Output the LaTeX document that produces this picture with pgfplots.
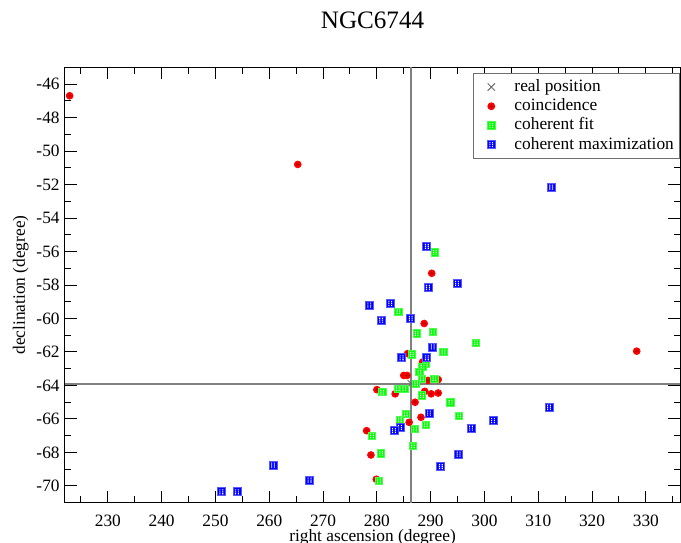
\documentclass[border=0pt]{standalone}
\usepackage{fontspec}
\setmainfont{Liberation Serif}
\usepackage{pgfplots}
\pgfplotsset{compat=1.18}
\definecolor{xgray}{RGB}{110,110,110}
\definecolor{lgray}{RGB}{128,128,128}
\definecolor{cred}{RGB}{255,0,0}
\definecolor{dred}{RGB}{190,0,0}
\definecolor{cgreen}{RGB}{0,255,0}
\definecolor{cblue}{RGB}{0,0,255}
\pgfdeclareplotmark{dsq}{%
  \pgfpathrectangle{\pgfqpoint{-\pgfplotmarksize}{-\pgfplotmarksize}}{\pgfqpoint{2\pgfplotmarksize}{2\pgfplotmarksize}}%
  \pgfusepathqfillstroke
  \begin{pgfscope}%
  \pgfsetfillcolor{white}%
  \pgfpathrectangle{\pgfqpoint{-0.5\pgfplotmarksize}{0.35\pgfplotmarksize}}{\pgfqpoint{0.28\pgfplotmarksize}{0.28\pgfplotmarksize}}%
  \pgfpathrectangle{\pgfqpoint{0.2\pgfplotmarksize}{0.35\pgfplotmarksize}}{\pgfqpoint{0.28\pgfplotmarksize}{0.28\pgfplotmarksize}}%
  \pgfpathrectangle{\pgfqpoint{-0.5\pgfplotmarksize}{-0.14\pgfplotmarksize}}{\pgfqpoint{0.28\pgfplotmarksize}{0.28\pgfplotmarksize}}%
  \pgfpathrectangle{\pgfqpoint{0.2\pgfplotmarksize}{-0.14\pgfplotmarksize}}{\pgfqpoint{0.28\pgfplotmarksize}{0.28\pgfplotmarksize}}%
  \pgfpathrectangle{\pgfqpoint{-0.5\pgfplotmarksize}{-0.63\pgfplotmarksize}}{\pgfqpoint{0.28\pgfplotmarksize}{0.28\pgfplotmarksize}}%
  \pgfpathrectangle{\pgfqpoint{0.2\pgfplotmarksize}{-0.63\pgfplotmarksize}}{\pgfqpoint{0.28\pgfplotmarksize}{0.28\pgfplotmarksize}}%
  \pgfusepathqfill
  \end{pgfscope}%
}
\pgfdeclareplotmark{dcirc}{%
  \pgfpathcircle{\pgfpointorigin}{\pgfplotmarksize}%
  \pgfusepathqfillstroke
  \begin{pgfscope}%
  \pgfsetfillcolor{dred}%
  \pgfpathrectangle{\pgfqpoint{-0.15\pgfplotmarksize}{-0.6\pgfplotmarksize}}{\pgfqpoint{0.3\pgfplotmarksize}{1.2\pgfplotmarksize}}%
  \pgfpathrectangle{\pgfqpoint{-0.6\pgfplotmarksize}{-0.15\pgfplotmarksize}}{\pgfqpoint{1.2\pgfplotmarksize}{0.3\pgfplotmarksize}}%
  \pgfusepathqfill
  \end{pgfscope}%
}
\begin{document}
\begin{tikzpicture}
\path[use as bounding box] (-32.4bp,-20.15bp) rectangle (308.1bp,251.35bp);
\begin{axis}[
 at={(0,0)}, anchor=south west,
 scale only axis, width=307.75bp, height=217.7bp,
 xmin=222, xmax=336.4, ymin=-71, ymax=-45,
 xtick distance=10, ytick distance=2,
 minor x tick num=1, minor y tick num=1,
 tick align=inside,
 major tick length=6bp, minor tick length=3.3bp,
 every tick/.style={black, line width=0.5bp},
 axis line style={line width=0.6bp},
 tick label style={font=\fontsize{8.7}{10.4}\selectfont},
 label style={font=\fontsize{8.7}{10.4}\selectfont},
 /pgf/number format/assume math mode=true,
 xticklabel style={anchor=base, yshift=-11.9bp},
 yticklabel style={anchor=east, inner sep=0pt, xshift=-2.4bp},
 title={NGC6744},
 title style={font=\fontsize{12.6}{15}\selectfont, at={(axis description cs:0.5,1.062)}, anchor=base},
 xlabel={right ascension (degree)},
 xlabel style={at={(axis description cs:0.5,-0.089)}, anchor=base},
 ylabel={declination (degree)},
 ylabel style={at={(axis description cs:-0.0647,0.5)}, anchor=base},
 legend style={at={(axis description cs:1,0.987)}, anchor=north east, draw=xgray, line width=0.5bp, fill=white,
   font=\fontsize{8.7}{10.4}\selectfont, inner xsep=1bp, inner ysep=2bp, row sep=0pt,
   cells={anchor=west}, nodes={inner ysep=0.8bp, text height=6.2bp, text depth=1.8bp}},
 legend cell align=left,
 legend image code/.code={\path[draw=none,fill=none] (0bp,-3bp) rectangle (17.6bp,3bp); \draw[#1] plot coordinates {(8bp,0bp)};},
]
\addplot[forget plot, lgray, line width=0.8bp] coordinates {(286.4,-71) (286.4,-45)};
\addplot[forget plot, lgray, line width=0.8bp] coordinates {(222,-63.9) (336.4,-63.9)};
\addplot[only marks, mark=x, mark size=2.6bp, xgray, mark options={line width=0.45bp}] coordinates {(286.4,-63.9)};
\addlegendentry{real position}
\addplot[only marks, mark=dcirc, mark size=1.7bp, cred, mark options={draw=cred, fill=cred}] coordinates {
(222.9,-46.7) (265.3,-50.8) (328.3,-61.95) (290.2,-57.3) (288.8,-60.3) (285.7,-62.1)
(288.5,-62.6) (285.0,-63.4) (285.6,-63.4) (289.5,-63.7) (291.4,-63.65) (280.0,-64.25)
(283.4,-64.5) (288.9,-64.35) (290.1,-64.5) (291.4,-64.45) (287.1,-65.0) (288.2,-65.9)
(286.0,-66.2) (278.1,-66.7) (278.9,-68.15) (279.9,-69.6)};
\addlegendentry{coincidence}
\addplot[only marks, mark=dsq, mark size=1.85bp, cgreen, mark options={draw=cgreen!70!white, fill=cgreen}] coordinates {
(290.8,-56.05) (284.0,-59.6) (287.4,-60.9) (290.4,-60.8) (298.4,-61.45) (292.4,-62.0)
(286.5,-62.15) (289.1,-62.7) (288.5,-62.9) (287.9,-63.2) (288.4,-63.6) (290.7,-63.6)
(287.3,-63.9) (283.9,-64.2) (285.1,-64.2) (281.0,-64.4) (288.4,-64.6) (293.7,-65.0)
(295.3,-65.8) (285.4,-65.7) (284.3,-66.05) (289.1,-66.35) (287.1,-66.6) (279.1,-67.0)
(286.7,-67.6) (280.8,-68.05) (280.4,-69.7)};
\addlegendentry{coherent fit}
\addplot[only marks, mark=dsq, mark size=2bp, cblue, mark options={draw=cblue!65!white, fill=cblue}] coordinates {
(289.3,-55.7) (289.5,-58.15) (294.9,-57.9) (278.6,-59.2) (282.5,-59.1) (280.8,-60.1)
(286.3,-60.0) (290.4,-61.7) (284.6,-62.35) (289.3,-62.35) (289.7,-65.65) (301.6,-66.1)
(297.5,-66.55) (284.3,-66.5) (283.2,-66.7) (295.2,-68.1) (291.9,-68.85) (312.4,-52.15)
(312.0,-65.3) (251.1,-70.35) (254.0,-70.35) (260.7,-68.75) (267.5,-69.65)};
\addlegendentry{coherent maximization}
\end{axis}
\end{tikzpicture}
\end{document}
